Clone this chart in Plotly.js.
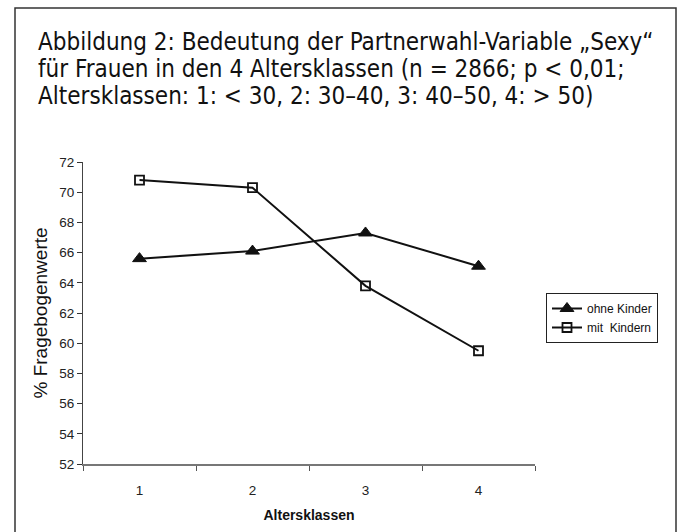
<!DOCTYPE html>
<html>
<head>
<meta charset="utf-8">
<script src="https://cdn.plot.ly/plotly-3.0.1.min.js"></script>
<style>
html,body{margin:0;padding:0;background:#fff;}
#chart{width:684px;height:532px;}
</style>
</head>
<body>
<div id="chart"></div>
<script>
const categories = ['1', '2', '3', '4'];
const ohneKinder = [65.6, 66.1, 67.3, 65.1];
const mitKindern = [70.8, 70.3, 63.8, 59.5];
const seriesNames = ['ohne Kinder', 'mit  Kindern'];
const yTicks = [52, 54, 56, 58, 60, 62, 64, 66, 68, 70, 72];
const titleLines = [
  'Abbildung 2: Bedeutung der Partnerwahl-Variable „Sexy“',
  'für Frauen in den 4 Altersklassen (n = 2866; p < 0,01;',
  'Altersklassen: 1: < 30, 2: 30–40, 3: 40–50, 4: > 50)'
];

// plot area geometry in pixels (for converting page positions to paper coords)
const L = 83, R = 149, T = 162, B = 68, W = 684, H = 532;
const PW = W - L - R, PH = H - T - B;
const px2x = p => (p - L) / PW;
const py2y = p => (H - B - p) / PH;

const tickFont = {family: 'Liberation Sans, Arial, sans-serif', size: 13.5, color: '#222'};
const titleFont = {family: 'DejaVu Sans Condensed, sans-serif', size: 24, color: '#111'};

const traces = [
  {
    x: categories, y: ohneKinder, name: seriesNames[0],
    type: 'scatter', mode: 'lines+markers',
    line: {color: '#111', width: 2},
    marker: {symbol: 'triangle-up', size: 12, color: '#111', line: {color: '#111', width: 1}}
  },
  {
    x: categories, y: mitKindern, name: seriesNames[1],
    type: 'scatter', mode: 'lines+markers',
    line: {color: '#111', width: 2},
    marker: {symbol: 'square-open', size: 9, color: '#111', line: {color: '#111', width: 1.8}}
  }
];

const titleCenters = [42, 69, 96];
const annotations = titleLines.map((t, i) => ({
  text: t, showarrow: false,
  xref: 'paper', yref: 'paper',
  x: px2x(36), xanchor: 'left',
  y: py2y(titleCenters[i]), yanchor: 'middle',
  font: titleFont
}));

const layout = {
  width: W, height: H,
  paper_bgcolor: '#fff', plot_bgcolor: '#fff',
  margin: {l: L, r: R, t: T, b: B},
  showlegend: true,
  annotations: annotations,
  xaxis: {
    type: 'category',
    range: [-0.5, 3.5],
    tickson: 'boundaries',
    ticks: 'outside', ticklen: 5, tickcolor: '#555', tickwidth: 1,
    showline: true, linecolor: '#777', linewidth: 1.5,
    showgrid: false, zeroline: false,
    tickfont: tickFont,
    ticklabelstandoff: 13,
    title: {text: '<b>Altersklassen</b>', font: {family: 'Liberation Sans, Arial, sans-serif', size: 14, color: '#111'}, standoff: 13}
  },
  yaxis: {
    range: [52, 72],
    tickvals: yTicks,
    ticks: 'outside', ticklen: 5, tickcolor: '#333', tickwidth: 1,
    showline: true, linecolor: '#444', linewidth: 1,
    showgrid: false, zeroline: false,
    tickfont: tickFont,
    title: {text: '% Fragebogenwerte', font: {family: 'Liberation Sans, Arial, sans-serif', size: 19, color: '#111'}, standoff: 6}
  },
  legend: {
    x: px2x(546), xanchor: 'left',
    y: py2y(293), yanchor: 'top',
    bordercolor: '#222', borderwidth: 1,
    bgcolor: '#fff',
    font: {family: 'Liberation Sans, Arial, sans-serif', size: 12, color: '#111'},
    tracegroupgap: 0,
    itemwidth: 30
  },
  shapes: [
    {
      type: 'rect', xref: 'paper', yref: 'paper',
      x0: px2x(15), x1: px2x(676),
      y0: py2y(545), y1: py2y(8),
      line: {color: '#333', width: 1.5}, fillcolor: 'rgba(0,0,0,0)'
    }
  ]
};

Plotly.newPlot('chart', traces, layout, {displayModeBar: false, staticPlot: true});
</script>
</body>
</html>
